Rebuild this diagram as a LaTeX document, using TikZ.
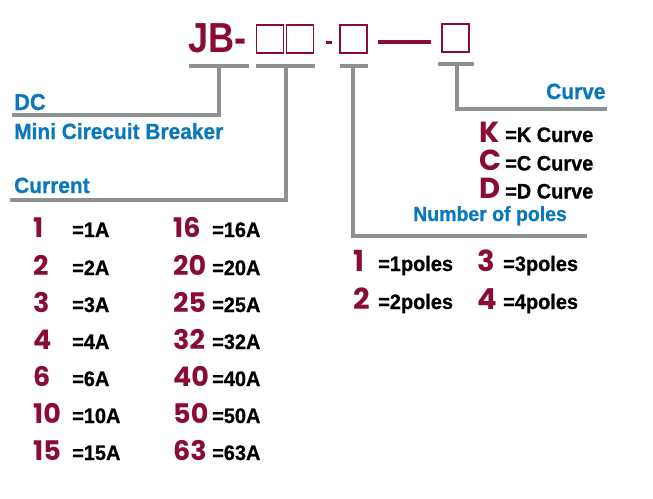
\documentclass[tikz,border=0pt]{standalone}
\usepackage{fontspec}
\newfontfamily\cond[FakeStretch=0.95,FakeBold=0.8]{Liberation Sans Bold}
\newfontfamily\condj[FakeStretch=0.86]{Liberation Sans Bold}
\newfontfamily\pop{Poppins}
\definecolor{myred}{HTML}{8A0B35}
\definecolor{myblue}{HTML}{0B78BE}
\definecolor{mygray}{HTML}{8D9191}
\tikzset{
  code/.style={font=\condj\fontsize{42}{42}\selectfont, text=myred, inner sep=0, anchor=base west},
  lbl/.style={font=\cond\fontsize{22}{22}\selectfont, text=myblue, inner sep=0, anchor=base west},
  num/.style={font=\pop\bfseries\fontsize{27}{27}\selectfont, text=myred, inner sep=0, anchor=base west},
  bignum/.style={num, font=\pop\bfseries\fontsize{29}{29}\selectfont},
  desc/.style={font=\cond\fontsize{21}{21}\selectfont, text=black, inner sep=0, anchor=base west},
  slot/.style={draw=myred, line width=1.3, minimum width=27, minimum height=28, inner sep=0},
  bar/.style={draw=mygray, line width=3.2},
}
\begin{document}
\begin{tikzpicture}[x=1pt,y=-1pt]
\useasboundingbox[fill=white] (0,0) rectangle (653,498);
% code line
\node[code] (jb) at (188,52.5) {JB-};
\node[slot] (s1) at (270,39) {};
\node[slot] (s2) at (300,39) {};
\node[fill=myred, inner sep=0, minimum width=6, minimum height=3] (dot) at (329,42.5) {};
\node[slot] (s3) at (353.5,39) {};
\node[fill=myred, inner sep=0, minimum width=53, minimum height=4] (dash) at (404.5,42) {};
\node[slot] (s4) at (455.5,38) {};
% bars
\coordinate (b1l) at (189,66); \coordinate (b1r) at (249,66); \coordinate (b1m) at (219,66); \coordinate (e1) at (12,115);
\coordinate (b2l) at (256,66); \coordinate (b2r) at (315,66); \coordinate (b2m) at (286,66); \coordinate (e2) at (10,200);
\coordinate (b3l) at (340,66); \coordinate (b3r) at (368,66); \coordinate (b3m) at (353,66); \coordinate (e3) at (587,236);
\coordinate (b4l) at (438,64); \coordinate (b4r) at (474,64); \coordinate (b4m) at (457,64); \coordinate (e4) at (607,109);
\draw[bar] (b1l) -- (b1r); \draw[bar] (b1m) |- (e1);
\draw[bar] (b2l) -- (b2r); \draw[bar] (b2m) |- (e2);
\draw[bar] (b3l) -- (b3r); \draw[bar] (b3m) |- (e3);
\draw[bar] (b4l) -- (b4r); \draw[bar] (b4m) |- (e4);
% labels
\node[lbl, font=\cond\fontsize{23}{23}\selectfont] (dc) at (14,110) {DC};
\node[lbl] (mcb) at (14,139) {Mini Cirecuit Breaker};
\node[lbl] (cur) at (14,193) {Current};
\node[lbl] (crv) at (546,99) {Curve};
\node[lbl, font=\cond\fontsize{20.5}{20.5}\selectfont] (nop) at (413,221) {Number of poles};
% curves
\node[bignum] (k) at (479,142) {K}; \node[desc] (kd) at (505,142) {=K Curve};
\node[bignum] (c) at (479,170.5) {C}; \node[desc] (cd) at (505,170.5) {=C Curve};
\node[bignum] (d) at (479,198.5) {D}; \node[desc] (dd) at (505,198.5) {=D Curve};
% poles
\node[bignum] (p1) at (353,271) {1}; \node[desc] (p1d) at (378,271) {=1poles};
\node[bignum] (p3) at (477,271) {3}; \node[desc] (p3d) at (503,271) {=3poles};
\node[bignum] (p2) at (353,309) {2}; \node[desc] (p2d) at (378,309) {=2poles};
\node[bignum] (p4) at (477,309) {4}; \node[desc] (p4d) at (503,309) {=4poles};
% current table
\foreach \a/\b/\y [count=\i] in {1/16/237, 2/20/275, 3/25/312, 4/32/349, 6/40/386, 10/50/423, 15/63/460} {
  \node[num] (l\i) at (33,\y) {\a};
  \node[desc] (ld\i) at (72,\y) {=\a A};
  \node[num] (r\i) at (173,\y) {\b};
  \node[desc] (rd\i) at (212,\y) {=\b A};
}
\end{tikzpicture}
\end{document}
